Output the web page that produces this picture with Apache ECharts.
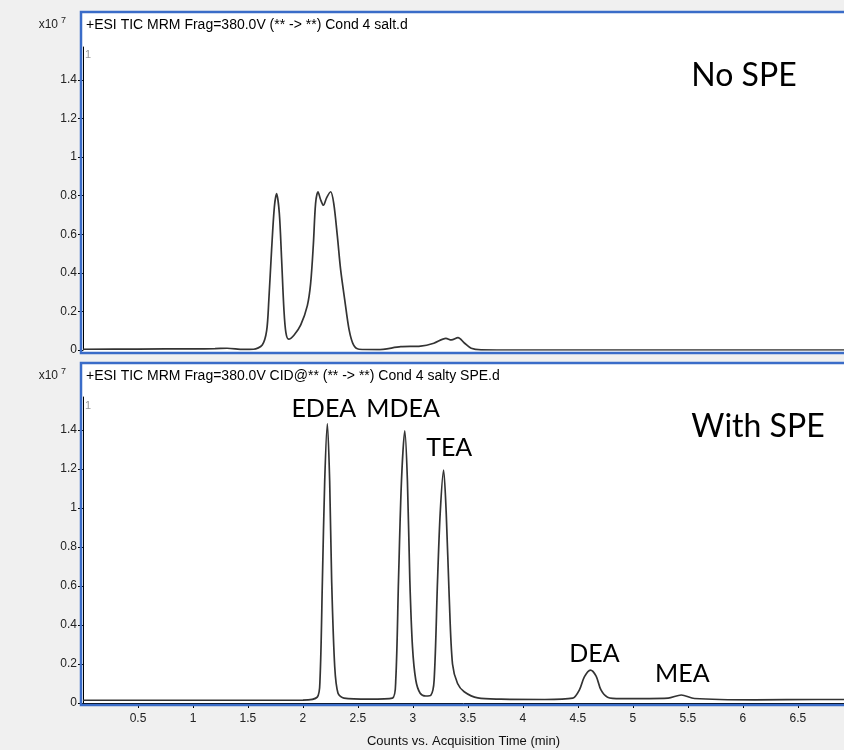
<!DOCTYPE html>
<html>
<head>
<meta charset="utf-8">
<script src="https://cdn.jsdelivr.net/npm/echarts@6/dist/echarts.min.js"></script>
<style>
html, body { margin: 0; padding: 0; background: #f0f0f0; }
#chart { width: 844px; height: 750px; }
</style>
</head>
<body>
<div id="chart"></div>
<script>
// top trace: no SPE (counts x10^7 vs minutes)
var noSpeTime = [0, 0.5, 1.0, 1.2, 1.31, 1.46, 1.55,
	1.63, 1.67, 1.69, 1.715, 1.74, 1.76, 1.785, 1.806, 1.827, 1.845, 1.87,
	1.92, 1.98, 2.04, 2.07, 2.095, 2.115, 2.137, 2.16, 2.186, 2.216, 2.252, 2.28, 2.313, 2.343, 2.38, 2.42, 2.46, 2.51,
	2.68, 2.89, 3.07, 3.19, 3.30, 3.35, 3.41, 3.47, 3.53, 3.62,
	3.98, 5.0, 6.0, 6.92];
var noSpeCounts = [0.004, 0.005, 0.006, 0.007, 0.009, 0.003, 0.004,
	0.026, 0.10, 0.26, 0.52, 0.74, 0.81, 0.71, 0.47, 0.21, 0.09, 0.056,
	0.078, 0.13, 0.23, 0.345, 0.55, 0.76, 0.82, 0.78, 0.75, 0.79, 0.82, 0.76, 0.59, 0.415, 0.26, 0.104, 0.026, 0.004,
	0.002, 0.017, 0.02, 0.035, 0.06, 0.052, 0.064, 0.035, 0.009, 0.001,
	0, 0, 0, 0];

// bottom trace: with SPE
var speTime = [0, 1.0, 2.0,
	2.13, 2.155, 2.177, 2.198, 2.222, 2.243, 2.261, 2.289, 2.319, 2.373,
	2.6,
	2.814, 2.844, 2.869, 2.896, 2.926, 2.95, 2.972, 2.996, 3.026, 3.066, 3.117, 3.163,
	3.193, 3.224, 3.248, 3.279, 3.303, 3.33, 3.36, 3.406, 3.466, 3.59,
	3.8, 4.2,
	4.454, 4.514, 4.56, 4.614, 4.666, 4.71, 4.77, 4.89,
	5.32, 5.44, 5.56,
	6.11, 6.68, 6.92];
var speCounts = [0.014, 0.014, 0.015,
	0.03, 0.118, 0.63, 1.14, 1.434, 1.14, 0.63, 0.186, 0.05, 0.025,
	0.02,
	0.025, 0.118, 0.63, 1.14, 1.396, 1.14, 0.63, 0.289, 0.118, 0.05, 0.036, 0.04,
	0.118, 0.63, 0.973, 1.195, 0.973, 0.545, 0.2, 0.1, 0.058, 0.026,
	0.02, 0.018,
	0.025, 0.067, 0.135, 0.169, 0.138, 0.067, 0.03, 0.022,
	0.025, 0.041, 0.023,
	0.016, 0.018, 0.018];

var peakNames = ["EDEA", "MDEA", "TEA", "DEA", "MEA"];
var peakLabelTime = [2.19, 2.91, 3.33, 4.65, 5.45];
var peakLabelCounts = [1.51, 1.51, 1.31, 0.25, 0.15];

var yTicks = [0, 0.2, 0.4, 0.6, 0.8, 1, 1.2, 1.4];
var xTicks = [0.5, 1, 1.5, 2, 2.5, 3, 3.5, 4, 4.5, 5, 5.5, 6, 6.5];

var headerTop = "+ESI TIC MRM Frag=380.0V (** -> **) Cond 4 salt.d";
var headerBottom = "+ESI TIC MRM Frag=380.0V CID@** (** -> **) Cond 4 salty SPE.d";

function zip(t, c) {
	return t.map(function (x, i) { return [x, c[i]]; });
}

var blue = "#3a6cc8";
var tickFont = "Liberation Sans";

function yAxisFor(idx) {
	return {
		gridIndex: idx,
		type: "value",
		min: 0,
		max: 1.57,
		interval: 0.2,
		offset: 4,
		axisLine: {show: true, lineStyle: {color: "#000", width: 1}},
		axisTick: {show: true, length: 5, customValues: yTicks, lineStyle: {color: "#000"}},
		axisLabel: {show: true, customValues: yTicks, margin: 2, fontSize: 12, color: "#222", fontFamily: tickFont},
		splitLine: {show: false}
	};
}

var myChart = echarts.init(document.getElementById("chart"));
var option = {
	backgroundColor: "#f0f0f0",
	animation: false,
	grid: [
		{left: 83, right: 0, top: 47, height: 303},
		{left: 83, right: 0, top: 397, height: 306}
	],
	xAxis: [{
		gridIndex: 0,
		type: "value",
		min: 0,
		max: 6.92,
		show: false
	}, {
		gridIndex: 1,
		type: "value",
		min: 0,
		max: 6.92,
		interval: 0.5,
		offset: 6,
		name: "Counts vs. Acquisition Time (min)",
		nameLocation: "middle",
		nameGap: 26,
		nameTextStyle: {fontSize: 13, color: "#111", fontFamily: tickFont},
		axisLine: {show: true, lineStyle: {color: "#000", width: 1}},
		axisTick: {show: true, length: 5, customValues: xTicks, lineStyle: {color: "#000"}},
		axisLabel: {show: true, customValues: xTicks, margin: 4, fontSize: 12, color: "#222", fontFamily: tickFont},
		splitLine: {show: false}
	}],
	yAxis: [yAxisFor(0), yAxisFor(1)],
	series: [{
		name: "No SPE",
		type: "line",
		xAxisIndex: 0,
		yAxisIndex: 0,
		data: zip(noSpeTime, noSpeCounts),
		showSymbol: false,
		smooth: 0.3,
		lineStyle: {color: "#333", width: 1.7}
	}, {
		name: "With SPE",
		type: "line",
		xAxisIndex: 1,
		yAxisIndex: 1,
		data: zip(speTime, speCounts),
		showSymbol: false,
		smooth: 0.3,
		lineStyle: {color: "#333", width: 1.7},
		markPoint: {
			symbol: "circle",
			symbolSize: 1,
			itemStyle: {color: "rgba(0,0,0,0)"},
			label: {show: true, position: "inside", formatter: "{b}", fontSize: 25, fontFamily: "Lato", color: "#000"},
			data: peakNames.map(function (n, i) {
				return {name: n, coord: [peakLabelTime[i], peakLabelCounts[i]]};
			})
		}
	}],
	graphic: [
		// white panel backgrounds
		{type: "rect", z: -10, shape: {x: 81, y: 12, width: 780, height: 341}, style: {fill: "#fff"}},
		{type: "rect", z: -10, shape: {x: 81, y: 363, width: 780, height: 342}, style: {fill: "#fff"}},
		// blue frames
		{type: "polyline", z: 100, shape: {points: [[860, 12], [81, 12], [81, 353], [860, 353]]}, style: {stroke: blue, lineWidth: 2.5, fill: null}},
		{type: "polyline", z: 100, shape: {points: [[860, 363], [81, 363], [81, 705], [860, 705]]}, style: {stroke: blue, lineWidth: 2.5, fill: null}},
		// headers
		{type: "text", z: 101, x: 86, y: 25, style: {text: headerTop, fontSize: 14, fontFamily: tickFont, fill: "#000", verticalAlign: "middle"}},
		{type: "text", z: 101, x: 86, y: 376, style: {text: headerBottom, fontSize: 14, fontFamily: tickFont, fill: "#000", verticalAlign: "middle"}},
		{type: "text", z: 101, x: 58, y: 25, style: {text: "x10", fontSize: 12, fontFamily: tickFont, fill: "#222", align: "right", verticalAlign: "middle"}},
		{type: "text", z: 101, x: 61, y: 21, style: {text: "7", fontSize: 9, fontFamily: tickFont, fill: "#222", verticalAlign: "middle"}},
		{type: "text", z: 101, x: 58, y: 376, style: {text: "x10", fontSize: 12, fontFamily: tickFont, fill: "#222", align: "right", verticalAlign: "middle"}},
		{type: "text", z: 101, x: 61, y: 372, style: {text: "7", fontSize: 9, fontFamily: tickFont, fill: "#222", verticalAlign: "middle"}},
		{type: "text", z: 101, x: 85, y: 55, style: {text: "1", fontSize: 11, fontFamily: tickFont, fill: "#999", verticalAlign: "middle"}},
		{type: "text", z: 101, x: 85, y: 406, style: {text: "1", fontSize: 11, fontFamily: tickFont, fill: "#999", verticalAlign: "middle"}},
		// panel captions
		{type: "text", z: 101, x: 744, y: 76, style: {text: "No SPE", fontSize: 32, fontFamily: "Lato", fill: "#000", align: "center", verticalAlign: "middle"}},
		{type: "text", z: 101, x: 758, y: 427, style: {text: "With SPE", fontSize: 32, fontFamily: "Lato", fill: "#000", align: "center", verticalAlign: "middle"}}
	]
};
myChart.setOption(option);
</script>
</body>
</html>
